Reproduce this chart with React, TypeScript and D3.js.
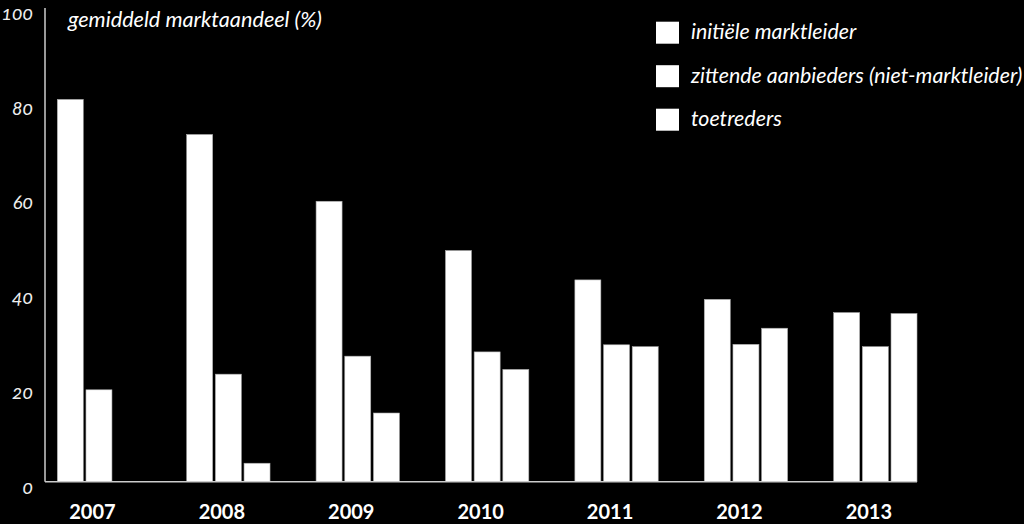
import React from "react";
import * as d3 from "d3";

const years = ["2007", "2008", "2009", "2010", "2011", "2012", "2013"];
const seriesNames = [
  "initiële marktleider",
  "zittende aanbieders (niet-marktleider)",
  "toetreders",
];
const marktleider = [80.7, 73.3, 59.2, 48.8, 42.6, 38.5, 35.7];
const zittende = [19.4, 22.7, 26.5, 27.4, 28.9, 29.0, 28.5];
const toetreders = [0, 3.9, 14.5, 23.7, 28.5, 32.4, 35.5];
const yTicks = [0, 20, 40, 60, 80, 100];
const yTitle = "gemiddeld marktaandeel (%)";

const W = 1024;
const H = 524;
const axisX = 45;
const baseY = 481.7;
const topY = 8;
const font = "Lato, 'Open Sans', sans-serif";

export default function App() {
  const seriesValues = [marktleider, zittende, toetreders];
  const x0 = d3
    .scaleBand<string>()
    .domain(years)
    .range([axisX, 929.3])
    .paddingInner(0.356)
    .paddingOuter(0.095);
  const x1 = d3
    .scaleBand<number>()
    .domain([0, 1, 2])
    .range([0, x0.bandwidth()])
    .paddingInner(0.094);
  const y = d3.scaleLinear().domain([0, 100]).range([baseY, topY]);
  const lastBandEnd = (x0(years[years.length - 1]) ?? 0) + x0.bandwidth();

  return (
    <svg
      width={W}
      height={H}
      style={{ position: "absolute", left: 0, top: 0, background: "#000" }}
    >
      <rect x={0} y={0} width={W} height={H} fill="#000" />
      {/* bars */}
      {years.map((yr, i) => (
        <g key={yr} transform={`translate(${x0(yr)},0)`}>
          {seriesValues.map((vals, s) =>
            vals[i] > 0 ? (
              <rect
                key={s}
                x={x1(s)}
                y={y(vals[i])}
                width={x1.bandwidth()}
                height={baseY - y(vals[i])}
                fill="#fff"
                stroke="#aaa"
                strokeWidth={0.6}
              />
            ) : null
          )}
        </g>
      ))}
      {/* axes */}
      <line x1={axisX} x2={axisX} y1={topY} y2={baseY} stroke="#ccc" strokeWidth={1.5} />
      <line x1={axisX} x2={lastBandEnd} y1={baseY} y2={baseY} stroke="#ccc" strokeWidth={1.5} />
      {yTicks.map((t) => (
        <text
          key={t}
          x={33}
          y={y(t) + 12}
          textAnchor="end"
          fill="#eee"
          fontFamily={font}
          fontStyle="italic"
          fontSize={19.5}
          style={{ fontVariantNumeric: "oldstyle-nums" }}
        >
          {t}
        </text>
      ))}
      {years.map((yr) => (
        <text
          key={yr}
          x={(x0(yr) ?? 0) + x0.bandwidth() / 2 - 6.5}
          y={519}
          textAnchor="middle"
          fill="#fff"
          fontFamily={font}
          fontWeight="bold"
          fontSize={20}
        >
          {yr}
        </text>
      ))}
      <text
        x={68}
        y={27}
        fill="#fff"
        fontFamily={font}
        fontStyle="italic"
        fontSize={21.7}
      >
        {yTitle}
      </text>
      {/* legend */}
      {seriesNames.map((name, i) => (
        <g key={name} transform={`translate(656,${21.7 + i * 43.5})`}>
          <rect x={0} y={0} width={23} height={22} fill="#fff" />
          <text
            x={35}
            y={17.5}
            fill="#fff"
            fontFamily={font}
            fontStyle="italic"
            fontSize={21.4}
          >
            {name}
          </text>
        </g>
      ))}
    </svg>
  );
}
